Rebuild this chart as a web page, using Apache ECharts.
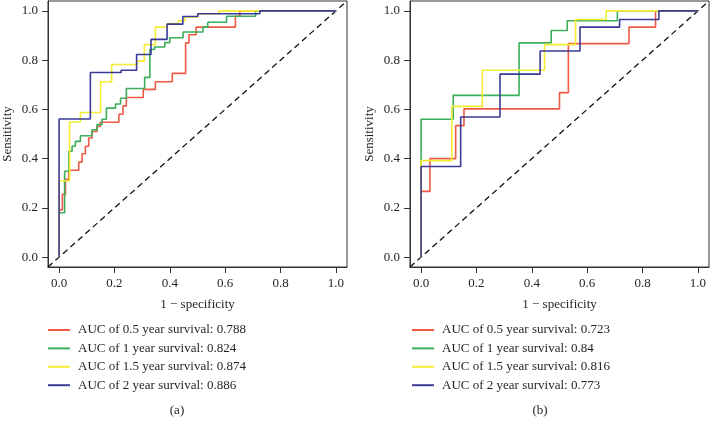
<!DOCTYPE html>
<html>
<head>
<meta charset="utf-8">
<script src="https://cdn.jsdelivr.net/npm/echarts@6/dist/echarts.min.js"></script>
<style>html,body{margin:0;padding:0;background:#fff;}#c{width:711px;height:428px;}</style>
</head>
<body>
<div id="c"></div>
<script>
// ---- data (1 - specificity, sensitivity) at each ROC corner ----
const tickValues = [0, 0.2, 0.4, 0.6, 0.8, 1.0];
const axisRange = [-0.04, 1.04];
const diagonal = [-0.04, 1.04];

const seriesNamesA = ['AUC of 0.5 year survival: 0.788', 'AUC of 1 year survival: 0.824', 'AUC of 1.5 year survival: 0.874', 'AUC of 2 year survival: 0.886'];
const seriesNamesB = ['AUC of 0.5 year survival: 0.723', 'AUC of 1 year survival: 0.84', 'AUC of 1.5 year survival: 0.816', 'AUC of 2 year survival: 0.773'];

// panel (a)
const fprA05 = [0, 0, 0.012, 0.023, 0.035, 0.071, 0.083, 0.095, 0.107, 0.119, 0.137, 0.149, 0.216, 0.231, 0.243, 0.304, 0.348, 0.409, 0.457, 0.469, 0.495, 0.637, 0.653, 1.0];
const tprA05 = [0, 0.192, 0.255, 0.316, 0.353, 0.386, 0.42, 0.45, 0.484, 0.51, 0.531, 0.548, 0.58, 0.614, 0.648, 0.681, 0.712, 0.746, 0.87, 0.903, 0.934, 0.978, 1.0, 1.0];
const fprA1 = [0, 0, 0.02, 0.035, 0.047, 0.059, 0.077, 0.119, 0.137, 0.155, 0.171, 0.204, 0.222, 0.243, 0.309, 0.328, 0.345, 0.382, 0.4, 0.448, 0.52, 0.537, 0.605, 0.71, 1.0];
const tprA1 = [0, 0.18, 0.349, 0.43, 0.45, 0.47, 0.493, 0.517, 0.538, 0.56, 0.605, 0.622, 0.645, 0.685, 0.73, 0.843, 0.853, 0.871, 0.891, 0.914, 0.934, 0.954, 0.978, 1.0, 1.0];
const fprA15 = [0, 0, 0.038, 0.077, 0.15, 0.19, 0.282, 0.308, 0.348, 0.39, 0.43, 0.455, 0.5, 0.578, 1.0];
const tprA15 = [0, 0.31, 0.549, 0.587, 0.712, 0.782, 0.796, 0.863, 0.934, 0.948, 0.96, 0.975, 0.988, 1.0, 1.0];
const fprA2 = [0, 0, 0.113, 0.224, 0.28, 0.332, 0.39, 0.447, 0.501, 0.725, 1.0];
const tprA2 = [0, 0.561, 0.75, 0.759, 0.823, 0.884, 0.946, 0.977, 0.988, 1.0, 1.0];

// panel (b)
const fprB05 = [0, 0, 0.032, 0.125, 0.155, 0.5, 0.532, 0.751, 0.847, 1.0];
const tprB05 = [0, 0.267, 0.4, 0.534, 0.602, 0.668, 0.867, 0.934, 1.0, 1.0];
const fprB1 = [0, 0, 0.116, 0.354, 0.47, 0.528, 0.709, 1.0];
const tprB1 = [0, 0.56, 0.657, 0.87, 0.92, 0.96, 1.0, 1.0];
const fprB15 = [0, 0, 0.111, 0.221, 0.446, 0.558, 0.669, 1.0];
const tprB15 = [0, 0.392, 0.612, 0.759, 0.863, 0.965, 1.0, 1.0];
const fprB2 = [0, 0, 0.143, 0.285, 0.43, 0.574, 0.717, 0.859, 1.0];
const tprB2 = [0, 0.368, 0.569, 0.743, 0.837, 0.934, 0.965, 1.0, 1.0];

const colors = ['#EE5A45', '#3DAE5B', '#F4EC35', '#3A3A96'];

// ---- build chart ----
const FONT = 'Liberation Serif';
const TXT = '#231f20';
const pairs = (xs, ys) => xs.map((x, i) => [x, ys[i]]);

function xAxis(gi) {
  return {
    type: 'value', gridIndex: gi, min: axisRange[0], max: axisRange[1],
    position: 'bottom',
    name: '1 \u2212 specificity', nameLocation: 'middle', nameGap: 31,
    nameTextStyle: { fontFamily: FONT, fontSize: 13, color: TXT },
    axisLine: { show: true, onZero: false, lineStyle: { color: '#333', width: 1 } },
    axisTick: { show: true, length: 6, customValues: tickValues, lineStyle: { color: '#333' } },
    axisLabel: { customValues: tickValues, margin: 10, fontFamily: FONT, fontSize: 13, color: TXT, formatter: v => v.toFixed(1) },
    splitLine: { show: false }
  };
}
function yAxis(gi) {
  return {
    type: 'value', gridIndex: gi, min: axisRange[0], max: axisRange[1],
    name: 'Sensitivity', nameLocation: 'middle', nameGap: 34,
    nameTextStyle: { fontFamily: FONT, fontSize: 13, color: TXT },
    axisLine: { show: true, onZero: false, lineStyle: { color: '#333', width: 1 } },
    axisTick: { show: true, length: 6, customValues: tickValues, lineStyle: { color: '#333' } },
    axisLabel: { customValues: tickValues, margin: 10, fontFamily: FONT, fontSize: 13, color: TXT, formatter: v => v.toFixed(1) },
    splitLine: { show: false }
  };
}
function roc(name, xs, ys, color, gi) {
  return {
    type: 'line', name: name, xAxisIndex: gi, yAxisIndex: gi,
    data: pairs(xs, ys), step: 'end', symbol: 'none', showSymbol: false,
    lineStyle: { color: color, width: 1.6 }, itemStyle: { color: color },
    animation: false
  };
}
function diag(gi) {
  return {
    type: 'line', xAxisIndex: gi, yAxisIndex: gi, data: [[diagonal[0], diagonal[0]], [diagonal[1], diagonal[1]]],
    symbol: 'none', silent: true, animation: false,
    lineStyle: { color: '#111', width: 1.3, type: [6, 4] }
  };
}
function legend(left, names) {
  return {
    left: left, top: 323, orient: 'vertical', data: names, padding: 0,
    icon: 'rect', itemWidth: 22, itemHeight: 2, itemGap: 4.4,
    textStyle: { fontFamily: FONT, fontSize: 13, lineHeight: 14, color: TXT, padding: [0, 0, 0, 3] },
    selectedMode: false
  };
}

const aSets = [[fprA05, tprA05], [fprA1, tprA1], [fprA15, tprA15], [fprA2, tprA2]];
const bSets = [[fprB05, tprB05], [fprB1, tprB1], [fprB15, tprB15], [fprB2, tprB2]];

const series = [diag(0), diag(1)];
aSets.forEach((s, i) => series.push(roc(seriesNamesA[i], s[0], s[1], colors[i], 0)));
bSets.forEach((s, i) => series.push(roc(seriesNamesB[i], s[0], s[1], colors[i], 1)));

const chart = echarts.init(document.getElementById('c'), null, { renderer: 'canvas' });
chart.setOption({
  backgroundColor: '#fff',
  animation: false,
  grid: [
    { left: 48, top: 1, width: 299, height: 266, show: true, borderColor: '#333', borderWidth: 1 },
    { left: 410, top: 1, width: 299, height: 266, show: true, borderColor: '#333', borderWidth: 1 }
  ],
  xAxis: [xAxis(0), xAxis(1)],
  yAxis: [yAxis(0), yAxis(1)],
  legend: [legend(48, seriesNamesA), legend(412, seriesNamesB)],
  title: [
    { text: '(a)', left: 172, top: 399, textAlign: 'center', textStyle: { fontFamily: FONT, fontSize: 13, fontWeight: 'normal', color: TXT } },
    { text: '(b)', left: 535, top: 399, textAlign: 'center', textStyle: { fontFamily: FONT, fontSize: 13, fontWeight: 'normal', color: TXT } }
  ],
  series: series
});
</script>
</body>
</html>
